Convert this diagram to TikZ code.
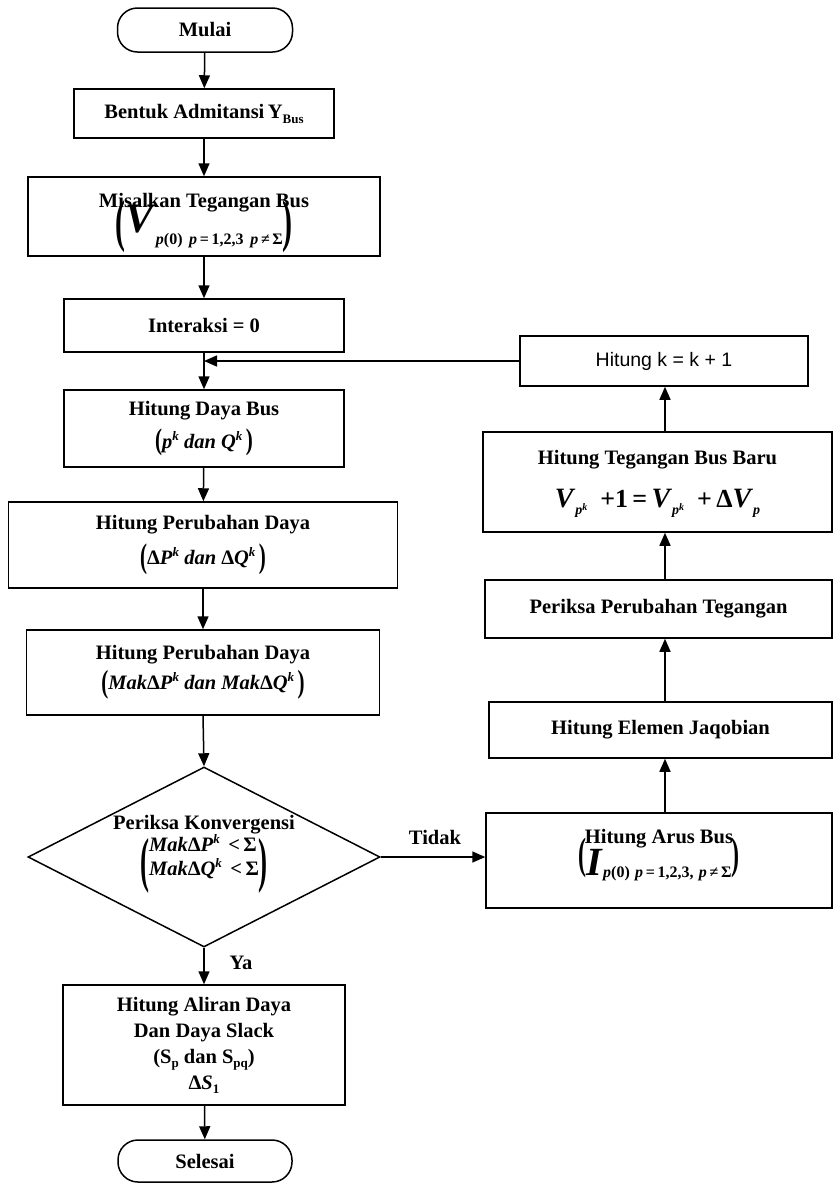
\documentclass[tikz,border=0pt]{standalone}
\usepackage{fontspec}
\setmainfont{Liberation Serif}
\setsansfont{Liberation Sans}
\usepackage{graphicx}
\usetikzlibrary{arrows.meta,shapes.geometric}
\newcommand{\mysub}[3]{\raisebox{-#1}{\fontsize{#2}{#2}\selectfont #3}}
\newcommand{\mysup}[3]{\raisebox{#1}{\fontsize{#2}{#2}\selectfont #3}}
\newcommand{\lpar}[3]{\raisebox{#3}{\resizebox*{#1}{#2}{(}}}
\newcommand{\rpar}[3]{\raisebox{#3}{\resizebox*{#1}{#2}{)}}}
\newcommand{\BV}[2]{{\fontsize{#1}{#1}\selectfont\textit{#2}}}
\begin{document}
\begin{tikzpicture}[x=1pt,y=-1pt,
  box/.style={draw, line width=1.5pt, inner sep=0pt, align=center,
    font=\fontsize{20.5}{25}\selectfont\bfseries},
  term/.style={box, rounded corners=20pt},
  arr/.style={line width=1.5pt, -{Triangle[length=13pt,width=11pt]}},
  lab/.style={inner sep=0pt, align=center, font=\fontsize{20.5}{25}\selectfont\bfseries}]
\fill[white] (0,0) rectangle (837,1187);
\useasboundingbox (0,0) rectangle (837,1187);

% main column
\node[term, minimum width=175pt, minimum height=44pt] (mulai) at (205,30) {Mulai};
\node[box, minimum width=260pt, minimum height=49pt] (bentuk) at (204,113.5)
  {Bentuk Admitansi\,Y\mysub{5pt}{13}{Bus}};
\node[box, minimum width=352pt, minimum height=79pt] (misal) at (204,216.5)
  {\rule{0pt}{27pt}Misalkan Tegangan Bus\\[-12pt]\lpar{10pt}{52pt}{-8pt}\BV{42}{V}\mysub{12pt}{16}{\textit{p}(0)\ \,\textit{p}\,=\,1,2,3\ \,\textit{p}\,≠\,Σ}\rpar{10pt}{52pt}{-8pt}};
\node[box, minimum width=280pt, minimum height=53pt] (inter) at (204,325.5) {Interaksi = 0};
\node[box, minimum width=280pt, minimum height=77pt] (daya) at (204,428.5)
  {Hitung Daya Bus\\[8pt]\lpar{7pt}{27pt}{-1.9pt}\textit{p}\mysup{8pt}{13}{\textit{k}} \textit{dan} \textit{Q}\mysup{8pt}{13}{\textit{k}}\,\rpar{7pt}{27pt}{-1.9pt}};
\node[box, minimum width=389pt, minimum height=86pt] (dp) at (203,545)
  {Hitung Perubahan Daya\\[8pt]\lpar{7pt}{31pt}{-3pt}Δ\textit{P}\mysup{8pt}{13}{\textit{k}} \textit{dan} Δ\textit{Q}\mysup{8pt}{13}{\textit{k}}\,\rpar{7pt}{31pt}{-3pt}};
\node[box, minimum width=353pt, minimum height=85pt] (mak) at (203,672.5)
  {Hitung Perubahan Daya\\[5pt]\lpar{7pt}{29pt}{-2.5pt}\textit{Mak}Δ\textit{P}\mysup{8pt}{13}{\textit{k}} \textit{dan} \textit{Mak}Δ\textit{Q}\mysup{8pt}{13}{\textit{k}}\,\rpar{7pt}{29pt}{-2.5pt}};
\node[draw, diamond, line width=1.5pt, minimum width=352pt, minimum height=180pt, inner sep=0pt] (dia) at (204,857) {};
\node[lab] (diatext) at (204,854)
  {Periksa Konvergensi\\\lpar{9pt}{55pt}{-17pt}{\fontsize{20.5}{22}\selectfont\begin{tabular}[c]{@{}l@{}}\textit{Mak}Δ\textit{P}\mysup{8pt}{13}{\textit{k}}\ \,<\,Σ\\\textit{Mak}Δ\textit{Q}\mysup{8pt}{13}{\textit{k}}\ \,<\,Σ\end{tabular}}\rpar{9pt}{55pt}{-17pt}};
\node[box, minimum width=282pt, minimum height=120pt, font=\fontsize{20.5}{26}\selectfont\bfseries] (aliran) at (204,1045)
  {Hitung Aliran Daya\\Dan Daya Slack\\(S\mysub{4pt}{13}{p} dan S\mysub{4pt}{13}{pq})\\Δ\textit{S}\mysub{4pt}{13}{1}};
\node[term, minimum width=174pt, minimum height=42pt] (selesai) at (205,1161) {Selesai};

% right column
\node[box, minimum width=288pt, minimum height=50pt, font=\sffamily\fontsize{19.5}{22}\selectfont] (k) at (664,361) {Hitung k = k + 1};
\node[box, minimum width=349pt, minimum height=100pt] (teg) at (657.5,482)
  {\rule{0pt}{18pt}Hitung Tegangan Bus Baru\\[18pt]{\fontsize{26}{26}\selectfont\BV{28}{V}\mysub{7pt}{14}{\textit{p}\mysup{4pt}{10}{\textit{k}}}\ \ +1\,=\,\BV{28}{V}\mysub{7pt}{14}{\textit{p}\mysup{4pt}{10}{\textit{k}}}\ \ +\,Δ\BV{28}{V}\mysub{7pt}{14}{\textit{p}}}};
\node[box, minimum width=347pt, minimum height=58pt] (per) at (658.5,609) {Periksa Perubahan Tegangan};
\node[box, minimum width=343pt, minimum height=56pt] (jaq) at (660.5,730) {Hitung Elemen Jaqobian};
\node[box, minimum width=346pt, minimum height=95pt, text depth=16pt] (arus) at (659,860.5)
  {Hitung Arus Bus\\[-11pt]\lpar{8pt}{40pt}{7pt}\BV{40}{I}\mysub{2pt}{16}{\textit{p}(0)\,\,\textit{p}\,=\,1,2,3,\,\,\textit{p}\,≠\,Σ}\rpar{8pt}{40pt}{7pt}};
\coordinate (rx) at (665,0);

% connectors
\draw[arr] (mulai) -- (bentuk);
\draw[arr] (bentuk) -- (misal);
\draw[arr] (misal) -- (inter);
\draw[arr] (inter) -- (daya);
\draw[arr] (daya) -- (dp);
\draw[arr] (dp) -- (mak);
\draw[arr] (mak.south) -- (dia.north);
\draw[arr] (dia.south) -- (aliran.north);
\draw[arr] (aliran) -- (selesai);
\draw[arr] (dia.east) -- (dia.east -| arus.west);
\draw[arr] (arus.north -| rx) -- (jaq.south -| rx);
\draw[arr] (jaq.north -| rx) -- (per.south -| rx);
\draw[arr] (per.north -| rx) -- (teg.south -| rx);
\draw[arr] (teg.north -| rx) -- (k.south -| rx);
\draw[arr] (k.west) -- (k.west -| inter.south);

\node[lab] (ya) at (241,963) {Ya};
\node[lab] (tidak) at (435,837) {Tidak};
\end{tikzpicture}
\end{document}
